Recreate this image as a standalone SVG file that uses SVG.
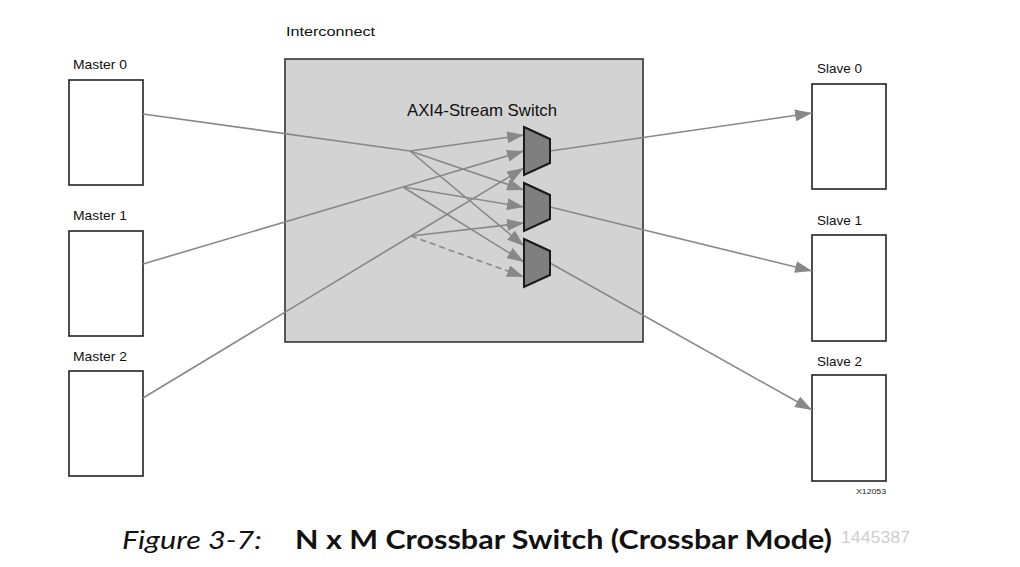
<svg xmlns="http://www.w3.org/2000/svg" width="1020" height="567" viewBox="0 0 1020 567">
<style>
.box{fill:#fff;stroke:#222;stroke-width:1.6}
.ic{fill:#d3d3d3;stroke:#333;stroke-width:1.6}
.mux{fill:#7f7f7f;stroke:#1a1a1a;stroke-width:2;stroke-linejoin:miter}
.lbl{font-family:"Liberation Sans",Arial,sans-serif;font-size:13.5px;fill:#111}
.ln{fill:none;stroke:#888;stroke-width:1.6}
.arr{marker-end:url(#ah)}
.dash{stroke-dasharray:6 4}
.cap{font-family:Lato,"Open Sans",sans-serif;font-size:26px;fill:#111}
</style>
<defs>
<marker id="ah" markerUnits="userSpaceOnUse" markerWidth="17" markerHeight="12" viewBox="0 0 17 12" refX="17" refY="6" orient="auto">
<path d="M0,0 L17,6 L0,12 Z" fill="#888"/>
</marker>
</defs>
<rect width="1020" height="567" fill="#fff"/>

<g id="interconnect">
<text class="lbl" x="286" y="36" font-size="15" textLength="89" lengthAdjust="spacingAndGlyphs">Interconnect</text>
<rect class="ic" x="285" y="59" width="358" height="283"/>
<text class="lbl" x="407" y="116" style="font-size:16.5px" textLength="150" lengthAdjust="spacingAndGlyphs">AXI4-Stream Switch</text>
</g>

<g id="master0"><text class="lbl" x="73" y="69" textLength="54" lengthAdjust="spacingAndGlyphs">Master 0</text><rect class="box" x="69" y="80" width="74" height="105"/></g>
<g id="master1"><text class="lbl" x="73" y="220" textLength="54" lengthAdjust="spacingAndGlyphs">Master 1</text><rect class="box" x="69" y="231" width="74" height="105"/></g>
<g id="master2"><text class="lbl" x="73" y="361" textLength="54" lengthAdjust="spacingAndGlyphs">Master 2</text><rect class="box" x="69" y="371" width="74" height="105"/></g>

<g id="slave0"><text class="lbl" x="817" y="73" textLength="45" lengthAdjust="spacingAndGlyphs">Slave 0</text><rect class="box" x="812" y="84" width="74" height="105"/></g>
<g id="slave1"><text class="lbl" x="817" y="225" textLength="45" lengthAdjust="spacingAndGlyphs">Slave 1</text><rect class="box" x="812" y="235" width="74" height="106"/></g>
<g id="slave2"><text class="lbl" x="817" y="366" textLength="45" lengthAdjust="spacingAndGlyphs">Slave 2</text><rect class="box" x="812" y="375" width="74" height="106"/></g>

<g id="connectors">
<polyline class="ln" points="143,114 410,151"/>
<line class="ln arr" x1="410" y1="151" x2="524" y2="135"/>
<line class="ln arr" x1="410" y1="151" x2="524" y2="190"/>
<line class="ln arr" x1="410" y1="151" x2="524" y2="246"/>
<polyline class="ln" points="143,264 403,187"/>
<line class="ln arr" x1="403" y1="187" x2="524" y2="151"/>
<line class="ln arr" x1="403" y1="187" x2="524" y2="207"/>
<line class="ln arr" x1="403" y1="187" x2="524" y2="262"/>
<polyline class="ln" points="143,398 411,236"/>
<line class="ln arr" x1="411" y1="236" x2="524" y2="168"/>
<line class="ln arr" x1="411" y1="236" x2="524" y2="223"/>
<line class="ln arr dash" x1="411" y1="236" x2="524" y2="277"/>
<line class="ln arr" x1="550" y1="151" x2="812" y2="113"/>
<line class="ln arr" x1="550" y1="207" x2="812" y2="271"/>
<line class="ln arr" x1="550" y1="263" x2="812" y2="410"/>
</g>

<g id="mux0"><polygon class="mux" points="524,127 550,139 550,163 524,175"/></g>
<g id="mux1"><polygon class="mux" points="524,183 550,195 550,219 524,231"/></g>
<g id="mux2"><polygon class="mux" points="524,239 550,251 550,275 524,287"/></g>

<text x="856" y="494" font-family="Liberation Sans,Arial,sans-serif" font-size="7" fill="#222" textLength="30" lengthAdjust="spacingAndGlyphs">X12053</text>

<g id="caption">
<text class="cap" x="122" y="549" font-style="italic" textLength="140" lengthAdjust="spacingAndGlyphs">Figure 3-7:</text>
<text class="cap" x="295" y="549" font-weight="bold" textLength="537" lengthAdjust="spacingAndGlyphs">N x M Crossbar Switch (Crossbar Mode)</text>
<text x="841" y="543" font-family="Liberation Sans,Arial,sans-serif" font-size="17" fill="#cfcfcf" textLength="69" lengthAdjust="spacingAndGlyphs">1445387</text>
</g>
</svg>
